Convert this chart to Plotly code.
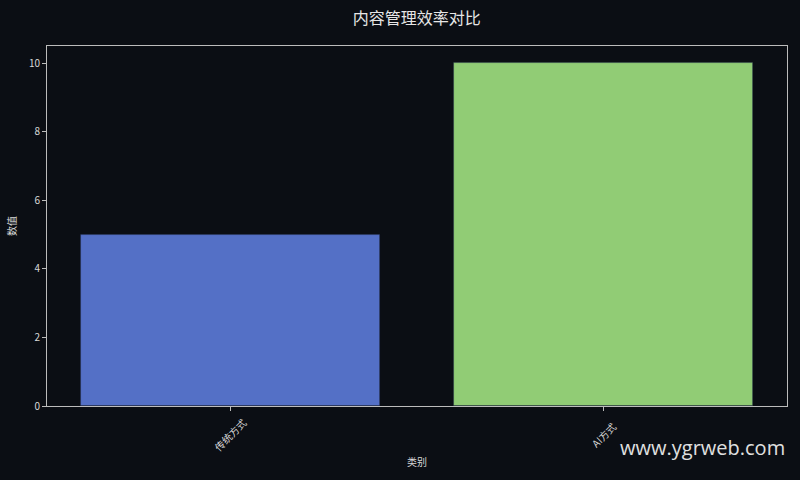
import plotly.graph_objects as go

# data
categories = ["传统方式", "AI方式"]
values = [5, 10]
bar_colors = ["#5470c6", "#91cc75"]

title = "内容管理效率对比"
x_title = "类别"
y_title = "数值"
y_ticks = [0, 2, 4, 6, 8, 10]

bg = "#0b0e14"
text_col = "#d8d8d8"
axis_col = "#bcbcbc"
font_family = "Noto Sans CJK SC, Noto Sans, DejaVu Sans"

fig = go.Figure()
fig.add_trace(
    go.Bar(
        x=categories,
        y=values,
        width=0.8,
        marker=dict(color=bar_colors, line=dict(color="rgba(40,50,80,0.5)", width=0.8)),
    )
)

fig.update_layout(
    width=800,
    height=480,
    paper_bgcolor=bg,
    plot_bgcolor=bg,
    margin=dict(l=46, r=12, t=46, b=74),
    font=dict(family=font_family, color=text_col, size=10),
    title=dict(
        text=title,
        x=0.521,
        xanchor="center",
        y=0.962,
        yanchor="middle",
        font=dict(size=16, color="#e6e6e6"),
    ),
    showlegend=False,
    bargap=0,
)

# real tick labels kept invisible (they hold the axis-title spacing);
# visible ones are drawn below, centred under each tick like matplotlib's rotation=45
fig.update_xaxes(
    range=[-0.49, 1.49],
    tickangle=-45,
    tickfont=dict(color="rgba(0,0,0,0)"),
    ticks="outside",
    ticklen=4,
    tickcolor=axis_col,
    showgrid=False,
    showline=True,
    linecolor=axis_col,
    linewidth=1,
    mirror=True,
    zeroline=False,
    title=dict(text=x_title, font=dict(size=10, color=text_col), standoff=8),
)
fig.update_yaxes(
    range=[0, 10.5],
    tickvals=y_ticks,
    ticks="outside",
    ticklen=4,
    tickcolor=axis_col,
    showgrid=False,
    showline=True,
    linecolor=axis_col,
    linewidth=1,
    mirror=True,
    zeroline=False,
    title=dict(text=y_title, font=dict(size=10), standoff=10),
)

for cat in categories:
    n = len(cat)
    fig.add_annotation(
        text=cat,
        x=cat,
        xref="x",
        y=0,
        yref="paper",
        xanchor="center",
        yanchor="middle",
        yshift=-(14 + 3.6 * n),
        textangle=-45,
        showarrow=False,
        font=dict(size=10, color=text_col),
    )

fig.add_annotation(
    text="www.ygrweb.com",
    xref="paper",
    yref="paper",
    x=1.0,
    y=-0.115,
    xanchor="right",
    yanchor="middle",
    showarrow=False,
    font=dict(family="Open Sans, Noto Sans", size=20, color="#e0e0e0"),
)

fig.write_html("out.html", config={"displayModeBar": False})

# drop the default body margin so the figure sits at the window corner
with open("out.html", encoding="utf-8") as f:
    html = f.read()
html = html.replace("<body>", '<body style="margin:0;background:#0b0e14">', 1)
with open("out.html", "w", encoding="utf-8") as f:
    f.write(html)
